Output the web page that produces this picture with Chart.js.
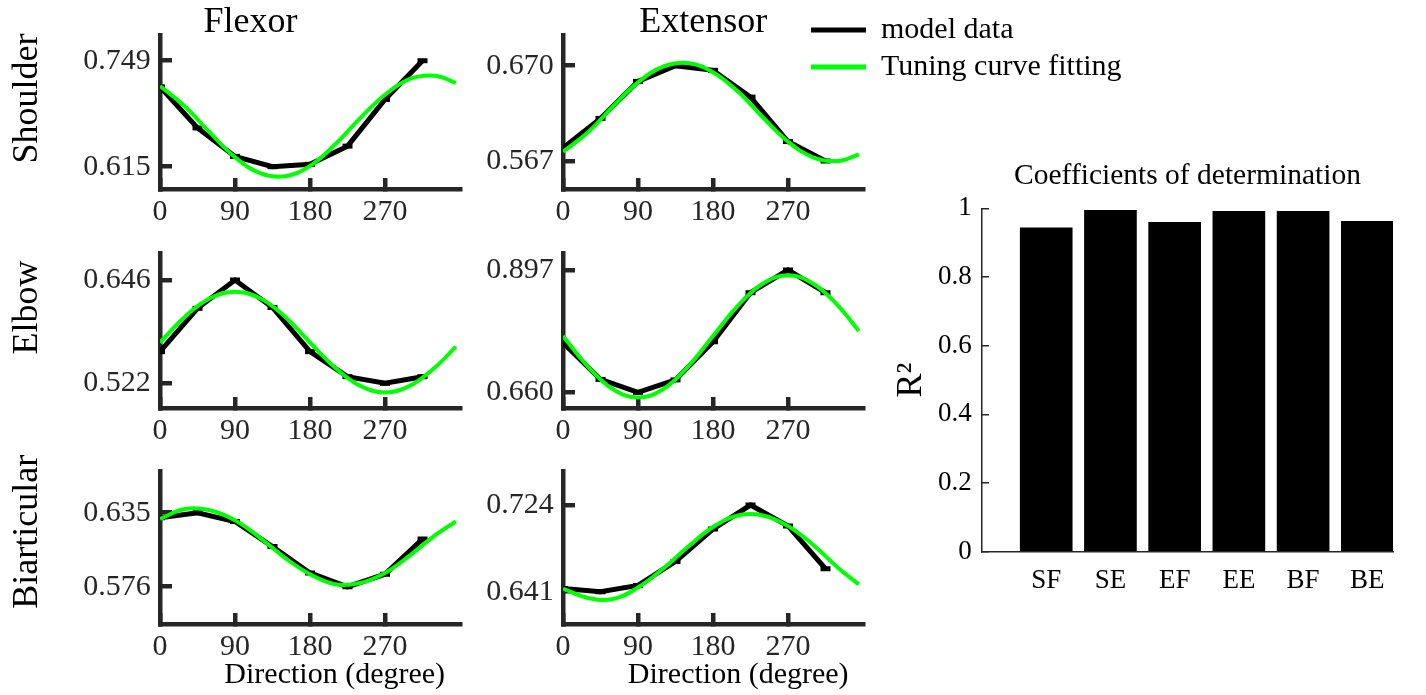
<!DOCTYPE html>
<html>
<head>
<meta charset="utf-8">
<script src="https://cdn.jsdelivr.net/npm/chart.js@4.4.1/dist/chart.umd.min.js"></script>
<style>
  html, body { margin: 0; padding: 0; background: #ffffff; }
  #fig { position: relative; width: 1426px; height: 695px; overflow: hidden; background: #ffffff; }
  #fig canvas { position: absolute; left: 0; top: 0; }
</style>
</head>
<body>
<div id="fig">
  <canvas id="cSF" width="1426" height="695"></canvas>
  <canvas id="cSE" width="1426" height="695"></canvas>
  <canvas id="cEF" width="1426" height="695"></canvas>
  <canvas id="cEE" width="1426" height="695"></canvas>
  <canvas id="cBF" width="1426" height="695"></canvas>
  <canvas id="cBE" width="1426" height="695"></canvas>
  <canvas id="cBar" width="1426" height="695"></canvas>
  <canvas id="cLegend" width="2000" height="695"></canvas>
</div>
<script>
// ---------------- data ----------------
const directionTicks = [0, 90, 180, 270];
const modelDirections = [0, 45, 90, 135, 180, 225, 270, 315];
const fitDirections = [0, 30, 60, 90, 120, 150, 180, 210, 240, 270, 300, 330, 355];

const shoulderFlexorModel = [0.716, 0.664, 0.628, 0.615, 0.618, 0.641, 0.700, 0.749];
const shoulderFlexorFit   = [0.717, 0.691, 0.658, 0.627, 0.607, 0.603, 0.616, 0.643, 0.676, 0.706, 0.726, 0.730, 0.721];
const shoulderFlexorTicks = [0.615, 0.749];

const shoulderExtensorModel = [0.581, 0.613, 0.653, 0.670, 0.665, 0.636, 0.588, 0.567];
const shoulderExtensorFit   = [0.577, 0.598, 0.626, 0.652, 0.669, 0.673, 0.663, 0.642, 0.614, 0.588, 0.571, 0.567, 0.574];
const shoulderExtensorTicks = [0.567, 0.670];

const elbowFlexorModel = [0.560, 0.612, 0.646, 0.613, 0.560, 0.530, 0.522, 0.530];
const elbowFlexorFit   = [0.571, 0.602, 0.624, 0.632, 0.624, 0.602, 0.571, 0.541, 0.519, 0.511, 0.519, 0.541, 0.566];
const elbowFlexorTicks = [0.522, 0.646];

const elbowExtensorModel = [0.756, 0.685, 0.660, 0.684, 0.758, 0.853, 0.897, 0.853];
const elbowExtensorFit   = [0.769, 0.710, 0.666, 0.650, 0.666, 0.710, 0.769, 0.828, 0.871, 0.887, 0.871, 0.828, 0.779];
const elbowExtensorTicks = [0.660, 0.897];

const biarticularFlexorModel = [0.631, 0.635, 0.628, 0.608, 0.587, 0.576, 0.586, 0.614];
const biarticularFlexorFit   = [0.630, 0.638, 0.637, 0.629, 0.615, 0.599, 0.586, 0.578, 0.579, 0.587, 0.601, 0.617, 0.628];
const biarticularFlexorTicks = [0.576, 0.635];

const biarticularExtensorModel = [0.644, 0.641, 0.647, 0.670, 0.701, 0.724, 0.704, 0.663];
const biarticularExtensorFit   = [0.644, 0.635, 0.634, 0.645, 0.663, 0.684, 0.703, 0.714, 0.714, 0.704, 0.686, 0.664, 0.648];
const biarticularExtensorTicks = [0.641, 0.724];

const r2Categories = ['SF', 'SE', 'EF', 'EE', 'BF', 'BE'];
const r2Values = [0.944, 0.995, 0.960, 0.992, 0.992, 0.963];

const seriesNames = ['model data', 'Tuning curve fitting'];

// ---------------- style ----------------
const FONT = "'Liberation Serif', 'Times New Roman', Times, serif";
const AX = '#262626';
const GREEN = '#00ff00';
const W = 1426, H = 695;
const Y_W = 100, X_H = 50;

Chart.defaults.font.family = FONT;
Chart.defaults.color = AX;

function f(size) { return { family: FONT, size: size, weight: 'normal', style: 'normal' }; }

function textLayer(items) {
  return {
    id: 'figText',
    afterDraw(chart) {
      const ctx = chart.ctx;
      items.forEach(it => {
        ctx.save();
        ctx.font = it.size + 'px ' + FONT;
        ctx.fillStyle = '#000000';
        ctx.textAlign = 'center';
        ctx.textBaseline = 'middle';
        ctx.translate(it.x, it.y);
        if (it.rotate) ctx.rotate(it.rotate * Math.PI / 180);
        ctx.fillText(it.text, 0, 0);
        ctx.restore();
      });
    }
  };
}

const panels = [
  { canvas: 'cSF', model: shoulderFlexorModel, fit: shoulderFlexorFit, ticks: shoulderFlexorTicks,
    yMin: 0.5868, yMax: 0.7815, box: { left: 160, right: 460, top: 35, bottom: 189 },
    texts: [ { text: 'Flexor', x: 250.5, y: 23, size: 36 },
             { text: 'Shoulder', x: 28, y: 98.5, size: 36, rotate: -90 } ] },
  { canvas: 'cSE', model: shoulderExtensorModel, fit: shoulderExtensorFit, ticks: shoulderExtensorTicks,
    yMin: 0.5367, yMax: 0.7032, box: { left: 563, right: 863, top: 35, bottom: 189 },
    texts: [ { text: 'Extensor', x: 703.3, y: 23, size: 36 } ] },
  { canvas: 'cEF', model: elbowFlexorModel, fit: elbowFlexorFit, ticks: elbowFlexorTicks,
    yMin: 0.4924, yMax: 0.6784, box: { left: 160, right: 460, top: 253, bottom: 408 },
    texts: [ { text: 'Elbow', x: 28, y: 307.5, size: 36, rotate: -90 } ] },
  { canvas: 'cEE', model: elbowExtensorModel, fit: elbowExtensorFit, ticks: elbowExtensorTicks,
    yMin: 0.6296, yMax: 0.930, box: { left: 563, right: 863, top: 253, bottom: 408 },
    texts: [] },
  { canvas: 'cBF', model: biarticularFlexorModel, fit: biarticularFlexorFit, ticks: biarticularFlexorTicks,
    yMin: 0.5463, yMax: 0.6677, box: { left: 160, right: 460, top: 471.7, bottom: 624 },
    texts: [ { text: 'Biarticular', x: 28, y: 531.7, size: 36, rotate: -90 },
             { text: 'Direction (degree)', x: 334.7, y: 675, size: 30 } ] },
  { canvas: 'cBE', model: biarticularExtensorModel, fit: biarticularExtensorFit, ticks: biarticularExtensorTicks,
    yMin: 0.6101, yMax: 0.7559, box: { left: 563, right: 863, top: 471.7, bottom: 624 },
    texts: [ { text: 'Direction (degree)', x: 738.2, y: 675, size: 30 } ] }
];

const baseOpts = {
  responsive: false,
  animation: false,
  devicePixelRatio: 1,
  events: []
};

panels.forEach(p => {
  new Chart(document.getElementById(p.canvas), {
    type: 'line',
    data: {
      datasets: [
        {
          label: seriesNames[1],
          data: fitDirections.map((d, i) => ({ x: d, y: p.fit[i] })),
          borderColor: GREEN, backgroundColor: GREEN,
          borderWidth: 4, pointRadius: 0, tension: 0.4, order: 0
        },
        {
          label: seriesNames[0],
          data: modelDirections.map((d, i) => ({ x: d, y: p.model[i] })),
          borderColor: '#000000', backgroundColor: '#000000',
          borderWidth: 5, tension: 0,
          pointStyle: 'line', pointRadius: 5, pointBorderWidth: 5, pointBorderColor: '#000000',
          order: 1
        }
      ]
    },
    options: Object.assign({}, baseOpts, {
      layout: { padding: {
        left: p.box.left - Y_W, right: W - p.box.right,
        top: p.box.top, bottom: H - p.box.bottom - X_H } },
      plugins: { legend: { display: false }, tooltip: { enabled: false }, title: { display: false } },
      scales: {
        x: {
          type: 'linear', min: 0, max: 360,
          afterBuildTicks: s => { s.ticks = directionTicks.map(v => ({ value: v })); },
          afterFit: s => { s.height = X_H; s.paddingLeft = 0; s.paddingRight = 0; },
          ticks: { font: f(30), color: AX, padding: 15.7, maxRotation: 0, autoSkip: false },
          grid: { drawOnChartArea: false, drawTicks: true, tickLength: -11, color: AX, lineWidth: 4.5 },
          border: { display: true, color: AX, width: 4.5 }
        },
        y: {
          type: 'linear', min: p.yMin, max: p.yMax,
          afterBuildTicks: s => { s.ticks = p.ticks.map(v => ({ value: v })); },
          afterFit: s => { s.width = Y_W; s.paddingTop = 0; s.paddingBottom = 0; },
          ticks: { font: f(30), color: AX, padding: 21.3, callback: v => Number(v).toFixed(3) },
          grid: { drawOnChartArea: false, drawTicks: true, tickLength: -12, color: AX, lineWidth: 4.5 },
          border: { display: true, color: AX, width: 4.5 }
        }
      }
    }),
    plugins: [textLayer(p.texts)]
  });
});

// ---------------- bar chart ----------------
const BAR_Y_W = 102, BAR_X_H = 60;
const barBox = { left: 982, right: 1393, top: 208.3, bottom: 551.7 };
new Chart(document.getElementById('cBar'), {
  type: 'bar',
  data: {
    datasets: [{
      label: 'R²',
      data: r2Categories.map((c, i) => ({ x: i + 1, y: r2Values[i] })),
      backgroundColor: '#000000', borderWidth: 0,
      barPercentage: 0.82, categoryPercentage: 1
    }]
  },
  options: Object.assign({}, baseOpts, {
    layout: { padding: { left: barBox.left - BAR_Y_W, right: W - barBox.right, top: 150, bottom: H - barBox.bottom - BAR_X_H } },
    plugins: {
      legend: { display: false }, tooltip: { enabled: false },
      title: { display: true, text: 'Coefficients of determination', fullSize: false,
               font: f(29.5), color: '#000000', padding: { top: 8.3, bottom: 14.6 } }
    },
    scales: {
      x: {
        type: 'linear', min: 0, max: 6.4, offset: false,
        afterBuildTicks: s => { s.ticks = r2Categories.map((c, i) => ({ value: i + 1 })); },
        afterFit: s => { s.height = BAR_X_H; s.paddingLeft = 0; s.paddingRight = 0; },
        ticks: { font: f(27), color: '#000000', padding: 13.1, maxRotation: 0, autoSkip: false,
                 callback: v => r2Categories[Math.round(v) - 1] || '' },
        grid: { offset: false, drawOnChartArea: false, drawTicks: false },
        border: { display: true, color: AX, width: 1.5 }
      },
      y: {
        min: 0, max: 1,
        afterFit: s => { s.width = BAR_Y_W; s.paddingTop = 0; s.paddingBottom = 0; },
        ticks: { stepSize: 0.2, font: f(27), color: '#000000', padding: 17.3,
                 callback: v => String(Number(Number(v).toFixed(2))) },
        grid: { drawOnChartArea: false, drawTicks: true, tickLength: -7, color: AX, lineWidth: 1.5 },
        border: { display: true, color: AX, width: 1.5 },
        title: { display: true, text: 'R²', font: f(36), color: '#000000', padding: { top: 10, bottom: 0 } }
      }
    }
  })
});

// ---------------- legend ----------------
new Chart(document.getElementById('cLegend'), {
  type: 'line',
  data: {
    datasets: [
      { label: seriesNames[0], data: [], borderColor: '#000000', backgroundColor: '#000000', borderWidth: 5 },
      { label: seriesNames[1], data: [], borderColor: GREEN, backgroundColor: GREEN, borderWidth: 4 }
    ]
  },
  options: Object.assign({}, baseOpts, {
    layout: { padding: { left: 804, top: 8, right: 0, bottom: 0 } },
    scales: { x: { display: false }, y: { display: false } },
    plugins: {
      tooltip: { enabled: false },
      legend: {
        display: true, position: 'left', align: 'start',
        labels: {
          font: f(30), color: '#000000', boxWidth: 55, boxHeight: 5, padding: 7,
          generateLabels: chart => chart.data.datasets.map((ds, i) => ({
            text: ds.label, fillStyle: ds.borderColor, strokeStyle: ds.borderColor,
            lineWidth: 0, hidden: false, datasetIndex: i, fontColor: '#000000'
          }))
        }
      }
    }
  })
});
</script>
</body>
</html>
